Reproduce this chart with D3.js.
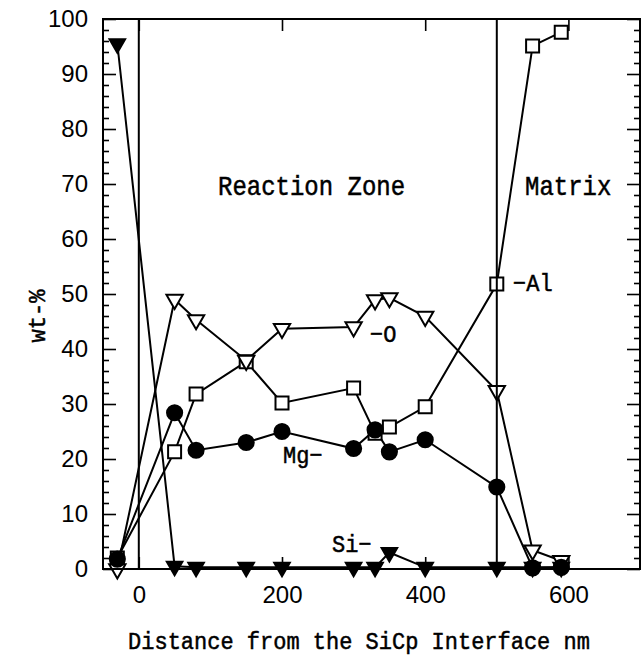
<!DOCTYPE html>
<html><head><meta charset="utf-8">
<script src="https://cdn.jsdelivr.net/npm/d3@7"></script>
<style>body{margin:0;background:#fff}svg{display:block}</style>
</head><body><svg id="c" width="641" height="656"></svg>
<script>
// Data (distance in nm, wt-%)
const distance = [-30, 50, 80, 150, 200, 300, 330, 350, 400, 500, 550, 590];
const al = [2, 21.3, 31.8, 37.7, 30.2, 32.9, 24.7, 25.8, 29.5, 51.8, 95.1, 97.6];
const oxy = [0, 49, 45.3, 37.9, 43.7, 44, 48.9, 49.3, 45.9, 32.4, 3.4, 1.5];
const mg = [1.8, 28.4, 21.6, 23, 25, 21.9, 25.3, 21.3, 23.5, 14.9, 0.2, 0.3];
const si = [95.5, 0.5, 0.3, 0.3, 0.3, 0.3, 0.3, 3, 0.3, 0.3, 0.3, 0.3];
const xTicks = [0, 200, 400, 600];
const yTicks = [0, 10, 20, 30, 40, 50, 60, 70, 80, 90, 100];
const zoneBounds = [0, 500];
const xTitle = "Distance from the SiCp Interface nm";
const yTitle = "wt-%";

const svg = d3.select("#c");
const x = d3.scaleLinear().domain([-50, 700]).range([103, 640]);
const y = d3.scaleLinear().domain([0, 100]).range([569, 19]);

const tickFont = "'Liberation Sans', Arial, sans-serif";
const monoFont = "'Liberation Mono', 'DejaVu Sans Mono', monospace";

// minor y ticks
const minorY = d3.range(0, 101, 2).filter(v => v % 10 !== 0);
svg.append("g").attr("transform", "translate(103,0)")
  .call(d3.axisLeft(y).tickValues(minorY).tickSize(-6).tickFormat(""))
  .call(g => g.select(".domain").remove());
svg.append("g").attr("transform", "translate(640,0)")
  .call(d3.axisRight(y).tickValues(minorY).tickSize(-6).tickFormat(""))
  .call(g => g.select(".domain").remove());

// major axes
const gl = svg.append("g").attr("transform", "translate(103,0)")
  .call(d3.axisLeft(y).tickValues(yTicks).tickSize(-13).tickPadding(15).tickFormat(d3.format("d")));
gl.select(".domain").remove();
gl.selectAll("text").attr("font-family", tickFont).attr("font-size", 24).attr("fill", "#000");

svg.append("g").attr("transform", "translate(640,0)")
  .call(d3.axisRight(y).tickValues(yTicks).tickSize(-13).tickFormat(""))
  .call(g => g.select(".domain").remove());

const gb = svg.append("g").attr("transform", "translate(0,569)")
  .call(d3.axisBottom(x).tickValues(xTicks).tickSize(-12).tickPadding(17).tickFormat(d3.format("d")));
gb.select(".domain").remove();
gb.selectAll("text").attr("font-family", tickFont).attr("font-size", 24).attr("fill", "#000");

svg.append("g").attr("transform", "translate(0,19)")
  .call(d3.axisTop(x).tickValues(xTicks).tickSize(-12).tickFormat(""))
  .call(g => g.select(".domain").remove());

svg.selectAll(".tick line").attr("stroke", "#000").attr("stroke-width", 1.6);

// series
const series = [
  {name: "Al", vals: al, sym: d3.symbolSquare, size: 169, rot: 0, fill: "#fff"},
  {name: "O", vals: oxy, sym: d3.symbolTriangle, size: 115, rot: 180, fill: "#fff"},
  {name: "Mg", vals: mg, sym: d3.symbolCircle, size: 180, rot: 0, fill: "#000"},
  {name: "Si", vals: si, sym: d3.symbolTriangle, size: 105, rot: 180, fill: "#000"}
];

const line = d3.line().x(d => x(d[0])).y(d => y(d[1]));
series.forEach(s => {
  const pts = distance.map((d, i) => [d, s.vals[i]]);
  svg.append("path").attr("d", line(pts)).attr("fill", "none")
    .attr("stroke", "#000").attr("stroke-width", 2);
});
series.forEach(s => {
  const pts = distance.map((d, i) => [d, s.vals[i]]);
  svg.append("g").selectAll("path").data(pts).join("path")
    .attr("d", d3.symbol().type(s.sym).size(s.size))
    .attr("transform", d => `translate(${x(d[0])},${y(d[1])}) rotate(${s.rot})`)
    .attr("fill", s.fill).attr("stroke", "#000").attr("stroke-width", 2);
});

// zone boundaries
svg.selectAll(".zone").data(zoneBounds).join("line").attr("class", "zone")
  .attr("x1", d => x(d)).attr("x2", d => x(d))
  .attr("y1", y(100)).attr("y2", y(0))
  .attr("stroke", "#000").attr("stroke-width", 2);

// frame
svg.append("rect").attr("x", 103).attr("y", 19).attr("width", 537).attr("height", 550)
  .attr("fill", "none").attr("stroke", "#000").attr("stroke-width", 2);

// text labels (typewriter-like, slightly tall)
function label(t, px, py, fs, anchor, rot) {
  svg.append("text")
    .attr("transform", `translate(${px},${py}) rotate(${rot || 0}) scale(1,1.12)`)
    .attr("text-anchor", anchor || "start").text(t)
    .attr("font-family", monoFont).attr("font-size", fs).attr("fill", "#000")
    .attr("stroke", "#000").attr("stroke-width", 0.45);
}
label("Reaction Zone", 218, 195, 24);
label("Matrix", 525, 195, 24);
label("\u2212Al", 513, 291, 22);
label("\u2212O", 370, 342, 22);
label("Mg\u2212", 283, 463, 22);
label("Si\u2212", 332, 552, 22);
label(xTitle, 359, 649, 22, "middle");
label(yTitle, 45, 316, 22, "middle", -90);
</script>
</body></html>
